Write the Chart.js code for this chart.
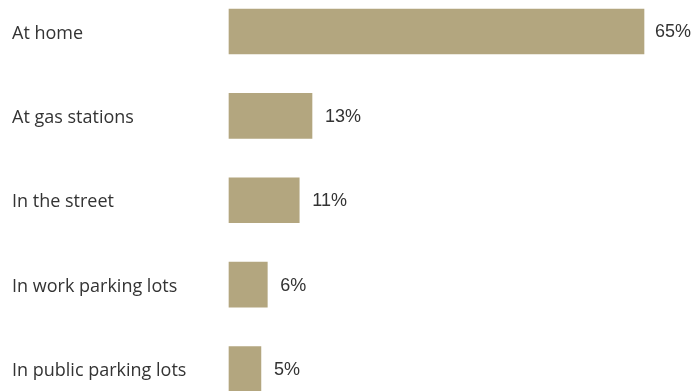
<!DOCTYPE html>
<html>
<head>
<meta charset="utf-8">
<script src="https://cdn.jsdelivr.net/npm/chart.js@4/dist/chart.umd.min.js"></script>
<style>
  html, body { margin: 0; padding: 0; background: #fff; }
  #wrap { width: 694px; height: 391px; position: relative; }
</style>
</head>
<body>
<div id="wrap"><canvas id="myChart"></canvas></div>
<script>
// data
var places = ['At home', 'At gas stations', 'In the street', 'In work parking lots', 'In public parking lots'];
var shares = [65, 13, 11, 6, 5];
var valueLabels = ['65%', '13%', '11%', '6%', '5%'];

var barColor = '#b3a67f';
var textColor = '#333333';

// label de gia tri o cuoi moi thanh
const valueLabelPlugin = {
    id: 'valueLabel',
    afterDatasetsDraw(chart) {
        const ctx = chart.ctx;
        const meta = chart.getDatasetMeta(0);
        ctx.save();
        ctx.font = '18px "Liberation Sans", Arial, sans-serif';
        ctx.fillStyle = textColor;
        ctx.textBaseline = 'middle';
        ctx.textAlign = 'left';
        meta.data.forEach(function (bar, i) {
            const txt = valueLabels[i];
            const w = ctx.measureText(txt).width;
            let x = bar.x + 13;
            if (x + w > chart.width - 3) x = chart.width - 3 - w;
            ctx.fillText(txt, x, bar.y + 1);
        });
        ctx.restore();
    }
};

new Chart(document.getElementById('myChart'), {
    type: 'bar',
    data: {
        labels: places,
        datasets: [{
            data: shares,
            backgroundColor: barColor,
            borderWidth: 0,
            barThickness: 45,
            clip: false
        }]
    },
    options: {
        indexAxis: 'y',
        responsive: true,
        maintainAspectRatio: false,
        animation: false,
        layout: { padding: { left: 12, right: 50, top: 31.5, bottom: 22 } },
        scales: {
            x: { display: false, min: 0, max: 65 },
            y: {
                offset: false,
                grid: { display: false },
                border: { display: false },
                ticks: {
                    crossAlign: 'far',
                    padding: 0,
                    labelOffset: 2,
                    color: textColor,
                    font: { family: '"Open Sans", sans-serif', size: 18 }
                },
                afterFit: function (scale) { scale.width = 217; }
            }
        },
        plugins: {
            legend: { display: false },
            tooltip: { enabled: false }
        }
    },
    plugins: [valueLabelPlugin]
});
</script>
</body>
</html>
